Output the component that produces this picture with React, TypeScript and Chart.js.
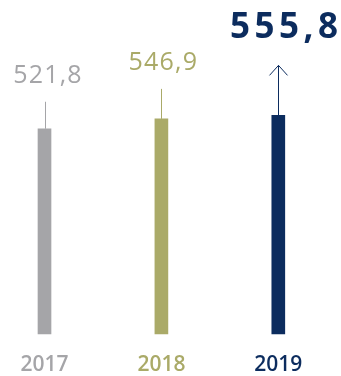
import React, { useEffect, useRef } from "react";
import { Chart, registerables } from "chart.js";

Chart.register(...registerables);

const years = ["2017", "2018", "2019"];
const values = [521.8, 546.9, 555.8];
const valueLabels = ["521,8", "546,9", "555,8"];
const yMin = 0;
const yMax = 600;

const colors = ["#a5a5a8", "#aaaa68", "#0c2c5e"];
const connectorLengths = [27, 30, 50];
const labelGaps = [19, 19, 27];
const labelShift = [3.5, 2, 8];

const labelsPlugin = {
  id: "valueLabels",
  afterDatasetsDraw(chart: any) {
    const ctx = chart.ctx;
    const meta = chart.getDatasetMeta(0);
    meta.data.forEach((el: any, i: number) => {
      const x = el.x;
      const top = el.y;
      const len = connectorLengths[i];
      ctx.save();
      ctx.strokeStyle = colors[i];
      ctx.lineWidth = 1;
      ctx.beginPath();
      ctx.moveTo(Math.round(x) + 0.5, top);
      ctx.lineTo(Math.round(x) + 0.5, top - len);
      ctx.stroke();
      if (i === values.length - 1) {
        const tx = Math.round(x) + 0.5;
        const ty = top - len;
        ctx.beginPath();
        ctx.moveTo(tx - 9, ty + 10);
        ctx.lineTo(tx, ty);
        ctx.lineTo(tx + 9, ty + 10);
        ctx.stroke();
      }
      const last = i === values.length - 1;
      ctx.fillStyle = colors[i];
      ctx.font = last ? "bold 35px 'Open Sans'" : "25px 'Open Sans'";
      (ctx as any).letterSpacing = last ? "4.5px" : "1.2px";
      ctx.textAlign = "center";
      ctx.textBaseline = "alphabetic";
      ctx.fillText(valueLabels[i], x + labelShift[i], top - len - labelGaps[i]);
      ctx.restore();
    });
  },
};

export default function App() {
  const ref = useRef<HTMLCanvasElement | null>(null);
  useEffect(() => {
    if (!ref.current) return;
    const chart = new Chart(ref.current, {
      type: "bar",
      data: {
        labels: years,
        datasets: [
          {
            data: values,
            backgroundColor: colors,
            borderWidth: 0,
            barThickness: 13,
            clip: false as any,
          },
        ],
      },
      options: {
        animation: false,
        responsive: true,
        maintainAspectRatio: false,
        layout: { padding: { left: 44.5, right: 62.7, top: 98, bottom: 0 } },
        plugins: { legend: { display: false }, tooltip: { enabled: false } },
        scales: {
          x: {
            offset: false,
            grid: { display: false, drawTicks: false },
            border: { display: false },
            ticks: {
              color: (c: any) => colors[c.index],
              font: { family: "'Open Sans'", size: 21, weight: "600" },
              padding: 18.4,
              maxRotation: 0,
            },
          },
          y: {
            display: false,
            min: yMin,
            max: yMax,
          },
        },
      },
      plugins: [labelsPlugin],
    });
    return () => chart.destroy();
  }, []);
  return (
    <div style={{ position: "absolute", left: 0, top: 0, width: 341, height: 376, overflow: "hidden", background: "#fff" }}>
      <div style={{ position: "relative", width: 341, height: 396 }}>
        <canvas ref={ref} />
      </div>
    </div>
  );
}
